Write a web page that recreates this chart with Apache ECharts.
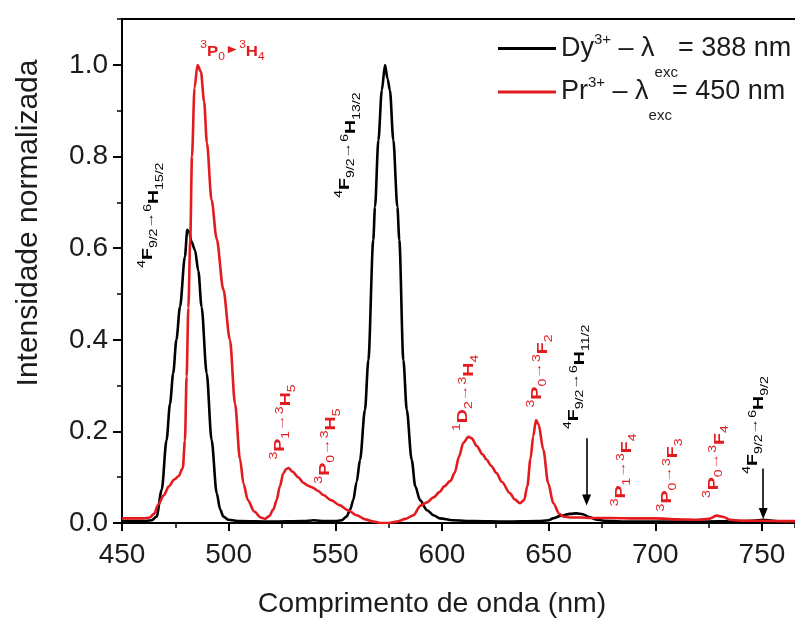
<!DOCTYPE html>
<html><head><meta charset="utf-8">
<script src="https://cdn.jsdelivr.net/npm/echarts@6/dist/echarts.min.js"></script>
<style>html,body{margin:0;padding:0;background:#fff}#c{width:795px;height:619px}</style>
</head><body><div id="c"></div>
<script>
// ---------- data ----------
const dyWavelength = [450,455,460,464,466.2,468.6,470.9,472.5,474,475.5,477.2,479.5,480.6,481.5,482.5,484.2,485.8,487.3,489.7,492,494.4,496,497.5,500,505,520,535,540,545,550,553,555.3,557,558.4,560,561.6,563.9,565.5,567.8,568.6,570.2,571.8,573.3,574.5,575.6,577.2,579.1,580,581.9,583.5,585.8,587.5,589.7,593,596,599,605,615,630,645,650,652,656,660,663,666,669,672,676,685,700,720,740,746,750.6,755,760,765.5];
const dyIntensity = [0.004,0.004,0.004,0.006,0.014,0.072,0.181,0.26,0.327,0.40,0.472,0.582,0.64,0.635,0.615,0.596,0.55,0.472,0.327,0.181,0.065,0.03,0.014,0.007,0.004,0.003,0.004,0.006,0.004,0.004,0.006,0.014,0.03,0.05,0.09,0.138,0.247,0.356,0.618,0.69,0.836,0.945,1.0,0.97,0.945,0.836,0.69,0.618,0.356,0.247,0.138,0.08,0.05,0.028,0.017,0.01,0.006,0.004,0.003,0.004,0.006,0.01,0.016,0.02,0.021,0.019,0.013,0.008,0.005,0.003,0.003,0.003,0.004,0.005,0.007,0.005,0.003,0.003];
const prWavelength = [450,455,460,463,465,467,469.5,472,474.5,476.5,478.5,479.5,480.3,481.1,482,482.8,484,485.4,487,488.5,489.8,492,494.4,497.5,500.6,503,505.3,507,509,512,515,517,519,521,522.5,524,525.6,527,528,530,532.6,535,537,539,542,544.4,548,552,556,560,564,568,571,575,578.8,583,586.6,590,593,596,599,601,604,606,608,610,612.4,614,616.3,619,621,623,625.6,628,631.9,634,636.6,638.5,640,641.5,642.8,644.1,645.3,647.5,649.8,652.2,655,657,660,665,670,680,690,700,710,720,725,728.8,732,735,740,750,760,765.5];
const prIntensity = [0.010,0.010,0.010,0.012,0.02,0.04,0.06,0.08,0.095,0.102,0.12,0.18,0.32,0.47,0.62,0.80,0.95,1.0,0.985,0.92,0.83,0.705,0.62,0.51,0.40,0.26,0.14,0.085,0.05,0.025,0.012,0.009,0.015,0.03,0.05,0.08,0.108,0.118,0.12,0.112,0.10,0.088,0.082,0.078,0.07,0.061,0.05,0.039,0.028,0.017,0.008,0.003,0.0,0.0,0.003,0.009,0.017,0.038,0.045,0.056,0.068,0.08,0.092,0.11,0.145,0.175,0.188,0.185,0.168,0.15,0.138,0.125,0.109,0.09,0.065,0.052,0.043,0.05,0.08,0.14,0.19,0.225,0.215,0.16,0.087,0.043,0.02,0.014,0.012,0.012,0.011,0.011,0.01,0.01,0.008,0.007,0.009,0.016,0.013,0.007,0.005,0.005,0.004,0.004];

const seriesNames = ['Dy³⁺ – λexc= 388 nm', 'Pr³⁺ – λexc= 450 nm'];
const legendRich = ['{m|Dy}{sp|3+}{m| – λ}{sb|exc}{m|= 388 nm}', '{m|Pr}{sp|3+}{m| – λ}{sb|exc}{m|= 450 nm}'];
const xAxisTitle = 'Comprimento de onda (nm)';
const yAxisTitle = 'Intensidade normalizada';

// transition labels
const annWavelength = [501.8, 463.8, 556.2, 525.5, 546.6, 611.3, 646.0, 663.2, 685.3, 706.9, 728.8, 747.2];
const annIntensity  = [1.029, 0.672, 0.825, 0.2205, 0.168, 0.284, 0.332, 0.319, 0.116, 0.105, 0.134, 0.214];
const annRotated    = [false, true, true, true, true, true, true, true, true, true, true, true];
const annIsPr       = [true, false, false, true, true, true, true, false, true, true, true, false];
const annText = [
  '{s1|3}{m1|P}{b1|0}{ar|►}{s2|3}{m2|H}{b2|4}',
  '{s1|4}{m1|F}{b1|9/2}{ar|→}{s2|6}{m2|H}{b2|15/2}',
  '{s1|4}{m1|F}{b1|9/2}{ar|→}{s2|6}{m2|H}{b2|13/2}',
  '{s1|3}{m1|P}{b1|1}{ar|→}{s2|3}{m2|H}{b2|5}',
  '{s1|3}{m1|P}{b1|0}{ar|→}{s2|3}{m2|H}{b2|5}',
  '{s1|1}{m1|D}{b1|2}{ar|→}{s2|3}{m2|H}{b2|4}',
  '{s1|3}{m1|P}{b1|0}{ar|→}{s2|3}{m2|F}{b2|2}',
  '{s1|4}{m1|F}{b1|9/2}{ar|→}{s2|6}{m2|H}{b2|11/2}',
  '{s1|3}{m1|P}{b1|1}{ar|→}{s2|3}{m2|F}{b2|4}',
  '{s1|3}{m1|P}{b1|0}{ar|→}{s2|3}{m2|F}{b2|3}',
  '{s1|3}{m1|P}{b1|0}{ar|→}{s2|3}{m2|F}{b2|4}',
  '{s1|4}{m1|F}{b1|9/2}{ar|→}{s2|6}{m2|H}{b2|9/2}'
];
// downward arrows
const arrowWavelength = [667.8, 750.6];
const arrowFrom = [0.185, 0.119];
const arrowTo = [0.05, 0.021];

// ---------- styles ----------
const FONT = '"Liberation Sans", Arial, sans-serif';
const BLACK = '#000000';
const RED = '#e31b1f';
const TXT = '#1c1c1c';
const X_MIN = 450, X_MAX = 765.5;

function zip(a, b) { return a.map((v, i) => [v, b[i]]); }

function annRich(color, rotated) {
  const off = rotated ? 6 : 0;
  const lh = rotated ? 30 : 24;
  const base = { fill: color, fontFamily: FONT, lineHeight: lh, verticalAlign: 'top' };
  return {
    s1: Object.assign({}, base, { fontSize: 10, height: 12 }),
    m1: Object.assign({}, base, { fontSize: 14, fontWeight: 'bold', height: 24 }),
    b1: Object.assign({}, base, { fontSize: 10, height: 36 }),
    ar: Object.assign({}, base, { fontSize: 12, fontWeight: 'bold', height: 20 + off }),
    s2: Object.assign({}, base, { fontSize: 10, height: 12 + 2 * off }),
    m2: Object.assign({}, base, { fontSize: 14, fontWeight: 'bold', height: 24 + 2 * off }),
    b2: Object.assign({}, base, { fontSize: 10, height: 36 + 2 * off })
  };
}

const chart = echarts.init(document.getElementById('c'), null, { renderer: 'canvas' });

const option = {
  animation: false,
  backgroundColor: '#ffffff',
  grid: { left: 122, top: 19.2, right: 0, bottom: 96, containLabel: false },
  legend: {
    orient: 'vertical', left: 493, top: 27, itemWidth: 58, itemHeight: 3, itemGap: -36,
    icon: 'rect', data: seriesNames,
    formatter: function (name) { return legendRich[seriesNames.indexOf(name)]; },
    textStyle: {
      fontFamily: FONT, color: TXT,
      rich: {
        m: { fontSize: 27, fontFamily: FONT, color: TXT, lineHeight: 30, height: 30, verticalAlign: 'top' },
        sp: { fontSize: 15, fontFamily: FONT, color: TXT, lineHeight: 30, height: 12, verticalAlign: 'top' },
        sb: { fontSize: 15, fontFamily: FONT, color: TXT, lineHeight: 30, height: 78, verticalAlign: 'top' }
      }
    }
  },
  xAxis: [{
    type: 'value', min: X_MIN, max: X_MAX, interval: 50, position: 'bottom',
    axisLine: { show: true, onZero: false, lineStyle: { color: BLACK, width: 2 } },
    axisTick: { show: true, length: 8, lineStyle: { color: BLACK, width: 2 } },
    axisLabel: { fontSize: 28, fontFamily: FONT, color: TXT, margin: 18, showMaxLabel: false },
    splitLine: { show: false }
  }, {
    type: 'value', min: X_MIN, max: X_MAX, position: 'top',
    axisLine: { show: true, onZero: false, lineStyle: { color: BLACK, width: 2 } },
    axisTick: { show: false }, axisLabel: { show: false }, splitLine: { show: false }
  }, {
    type: 'value', min: X_MIN, max: X_MAX, interval: 25, position: 'bottom',
    axisLine: { show: false, onZero: false },
    axisTick: { show: true, length: 5, lineStyle: { color: BLACK, width: 1.5 } },
    axisLabel: { show: false }, splitLine: { show: false }
  }],
  yAxis: [{
    type: 'value', min: 0, max: 1.1, interval: 0.2,
    axisLine: { show: true, lineStyle: { color: BLACK, width: 2 } },
    axisTick: { show: true, length: 9, lineStyle: { color: BLACK, width: 2 } },
    axisLabel: { fontSize: 28, fontFamily: FONT, color: TXT, margin: 14, showMaxLabel: false,
      formatter: v => v.toFixed(1) },
    splitLine: { show: false }
  }, {
    type: 'value', min: 0, max: 1.1, interval: 0.1, position: 'left',
    axisLine: { show: false },
    axisTick: { show: true, length: 5, lineStyle: { color: BLACK, width: 1.5 } },
    axisLabel: { show: false }, splitLine: { show: false }
  }],
  graphic: [
    { type: 'text', x: 29, y: 223, rotation: Math.PI / 2,
      style: { text: yAxisTitle, font: '30px ' + FONT, fill: TXT, align: 'center', verticalAlign: 'middle' } },
    { type: 'text', x: 432, y: 604,
      style: { text: xAxisTitle, font: '28.5px ' + FONT, fill: TXT, align: 'center', verticalAlign: 'middle' } }
  ],
  series: [
    {
      name: seriesNames[0], type: 'line', data: zip(dyWavelength, dyIntensity),
      showSymbol: false, symbol: 'none', smooth: 0.3, smoothMonotone: 'x',
      lineStyle: { color: BLACK, width: 2.6 }, itemStyle: { color: BLACK }, z: 2,
      markLine: {
        silent: true, symbol: ['none', 'triangle'], symbolSize: [9, 11], animation: false,
        lineStyle: { color: BLACK, width: 1.6, type: 'solid' }, label: { show: false },
        data: arrowWavelength.map((w, i) => [{ coord: [w, arrowFrom[i]] }, { coord: [w, arrowTo[i]] }])
      }
    },
    {
      name: seriesNames[1], type: 'line', data: zip(prWavelength, prIntensity),
      showSymbol: false, symbol: 'none', smooth: 0.3, smoothMonotone: 'x',
      lineStyle: { color: RED, width: 2.6 }, itemStyle: { color: RED }, z: 3
    },
    {
      name: 'transitions', type: 'custom', silent: true, z: 5, clip: false,
      data: annWavelength.map((w, i) => [w, annIntensity[i]]),
      renderItem: function (params, api) {
        const i = params.dataIndex;
        const p = api.coord([api.value(0), api.value(1)]);
        const color = annIsPr[i] ? RED : BLACK;
        const rot = annRotated[i];
        return {
          type: 'text', x: p[0], y: p[1],
          rotation: rot ? Math.PI / 2 : 0,
          scaleX: rot ? 1.4 : 1.2,
          style: { text: annText[i], rich: annRich(color, rot), fill: color,
            fontFamily: FONT, align: 'center', verticalAlign: 'middle' }
        };
      }
    }
  ]
};
chart.setOption(option);
</script>
</body></html>
